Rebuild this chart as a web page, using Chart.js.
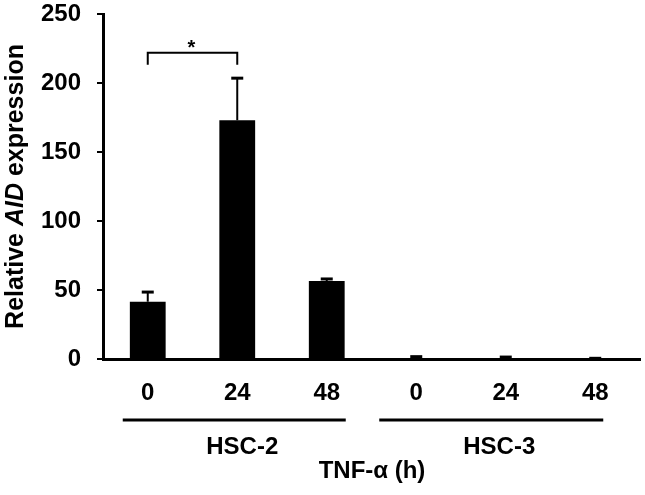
<!DOCTYPE html>
<html>
<head>
<meta charset="utf-8">
<script src="https://cdn.jsdelivr.net/npm/chart.js@4"></script>
<style>
  body { margin: 0; background: #fff; }
  #wrap { width: 645px; height: 495px; }
</style>
</head>
<body>
<div id="wrap"><canvas id="myChart"></canvas></div>
<script>
const categories = ['0', '24', '48', '0', '24', '48'];
const expression = [41.5, 173, 56.5, 0.4, 0.3, 0.2];
const errorUp = [7, 30.5, 1.5, 1.3, 1.1, 0.3];
const groups = ['HSC-2', 'HSC-3'];
const yTicks = [0, 50, 100, 150, 200, 250];

const FONT = '"Liberation Sans", Arial, sans-serif';
const groupLineOffsets = [[-25, 19], [-37, 8]];

const extras = {
  id: 'extras',
  afterDatasetsDraw(chart) {
    const c = chart.ctx;
    const x = chart.scales.x, y = chart.scales.y;
    c.save();
    c.strokeStyle = '#000';
    c.fillStyle = '#000';

    // upper error bars
    expression.forEach((v, i) => {
      const px = x.getPixelForValue(i);
      const top = y.getPixelForValue(v + errorUp[i]);
      const base = y.getPixelForValue(v);
      c.lineWidth = 2;
      c.beginPath();
      c.moveTo(px, base);
      c.lineTo(px, top);
      c.stroke();
      c.lineWidth = 3;
      c.beginPath();
      c.moveTo(px - 6, top);
      c.lineTo(px + 6, top);
      c.stroke();
    });

    // significance bracket 0 h vs 24 h (HSC-2)
    const bx1 = x.getPixelForValue(0), bx2 = x.getPixelForValue(1);
    const by = y.getPixelForValue(222);
    c.lineWidth = 2;
    c.beginPath();
    c.moveTo(bx1, by + 12);
    c.lineTo(bx1, by);
    c.lineTo(bx2, by);
    c.lineTo(bx2, by + 12);
    c.stroke();
    c.font = 'bold 20px ' + FONT;
    c.textAlign = 'center';
    c.textBaseline = 'alphabetic';
    c.fillText('*', (bx1 + bx2) / 2 - 1, by + 1);

    // group lines + labels
    groups.forEach((g, k) => {
      const l = x.getPixelForValue(k * 3) + groupLineOffsets[k][0];
      const r = x.getPixelForValue(k * 3 + 2) + groupLineOffsets[k][1];
      c.lineWidth = 3;
      c.beginPath();
      c.moveTo(l, 420);
      c.lineTo(r, 420);
      c.stroke();
      c.font = 'bold 24px ' + FONT;
      c.textAlign = 'center';
      c.fillText(g, (l + r) / 2 + 8, 454);
    });

    // x title
    c.font = 'bold 24px ' + FONT;
    c.fillText('TNF-\u03b1 (h)', 372, 478);

    // y title, AID in italics
    const parts = [['Relative ', 'bold'], ['AID', 'italic bold'], [' expression', 'bold']];
    let total = 0;
    parts.forEach(p => { c.font = p[1] + ' 25px ' + FONT; total += c.measureText(p[0]).width; });
    c.translate(23, (chart.chartArea.top + chart.chartArea.bottom) / 2);
    c.rotate(-Math.PI / 2);
    c.textAlign = 'left';
    let cx = -total / 2;
    parts.forEach(p => {
      c.font = p[1] + ' 25px ' + FONT;
      c.fillText(p[0], cx, 0);
      cx += c.measureText(p[0]).width;
    });
    c.restore();
  }
};

new Chart(document.getElementById('myChart'), {
  type: 'bar',
  data: {
    labels: categories,
    datasets: [{
      label: 'Relative AID expression',
      data: expression,
      backgroundColor: '#000',
      borderWidth: 0,
      categoryPercentage: 1,
      barPercentage: 0.4
    }]
  },
  options: {
    responsive: true,
    maintainAspectRatio: false,
    animation: false,
    layout: { padding: { top: 14, right: 5, left: 0, bottom: 0 } },
    plugins: { legend: { display: false }, tooltip: { enabled: false } },
    scales: {
      x: {
        grid: { display: false },
        border: { display: true, color: '#000', width: 3 },
        ticks: { color: '#000', padding: 12, font: { family: FONT, size: 24, weight: 'bold' } },
        afterFit(s) { s.height = 136; }
      },
      y: {
        min: 0, max: 250,
        afterBuildTicks(s) { s.ticks = yTicks.map(v => ({ value: v })); },
        grid: { drawOnChartArea: false, drawTicks: true, tickLength: 6, color: '#000', lineWidth: 2 },
        border: { display: true, color: '#000', width: 3 },
        ticks: { color: '#000', padding: 16, font: { family: FONT, size: 24, weight: 'bold' } },
        afterFit(s) { s.width = 103; s.paddingTop = 0; s.paddingBottom = 0; }
      }
    }
  },
  plugins: [extras]
});
</script>
</body>
</html>
